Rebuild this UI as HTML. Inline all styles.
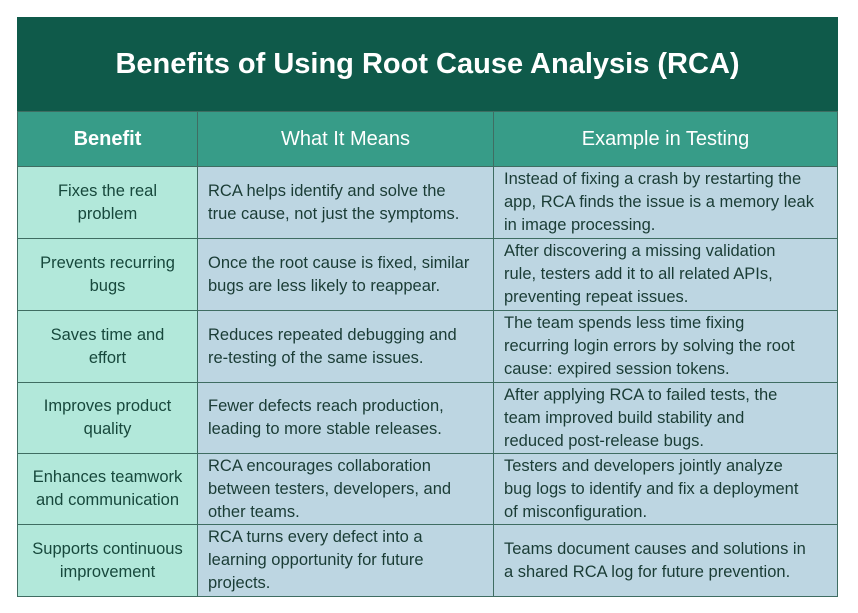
<!DOCTYPE html>
<html><head><meta charset="utf-8"><style>
body{margin:0;width:858px;height:613px;background:#fff;position:relative;font-family:"Liberation Sans",sans-serif;overflow:hidden}
.t{position:absolute;left:17px;top:17px;width:821px;height:94px;background:#0f5a4a;color:#fff;font-size:29px;font-weight:bold;display:flex;align-items:center;justify-content:center}
.c{position:absolute;box-sizing:border-box;border:1px solid #3f6d62;display:flex;align-items:center;font-size:16.5px;line-height:23px;color:#1a3c35;white-space:nowrap;padding:0 10px}
.h{background:#379c88;color:#fff;font-size:20px;justify-content:center}
.a{background:#b2e8da;justify-content:center;text-align:center;color:#17483c}
.b{background:#bdd6e2}
</style></head><body>
<div class="t">Benefits of Using Root Cause Analysis (RCA)</div>
<div class="c h" style="left:17px;top:111px;width:181px;height:56px;font-weight:bold">Benefit</div>
<div class="c h" style="left:197px;top:111px;width:297px;height:56px">What It Means</div>
<div class="c h" style="left:493px;top:111px;width:345px;height:56px">Example in Testing</div>

<div class="c a" style="left:17px;top:166px;width:181px;height:73px">Fixes the real<br>problem</div>
<div class="c b" style="left:197px;top:166px;width:297px;height:73px">RCA helps identify and solve the<br>true cause, not just the symptoms.</div>
<div class="c b" style="left:493px;top:166px;width:345px;height:73px">Instead of fixing a crash by restarting the<br>app, RCA finds the issue is a memory leak<br>in image processing.</div>

<div class="c a" style="left:17px;top:238px;width:181px;height:73px">Prevents recurring<br>bugs</div>
<div class="c b" style="left:197px;top:238px;width:297px;height:73px">Once the root cause is fixed, similar<br>bugs are less likely to reappear.</div>
<div class="c b" style="left:493px;top:238px;width:345px;height:73px">After discovering a missing validation<br>rule, testers add it to all related APIs,<br>preventing repeat issues.</div>

<div class="c a" style="left:17px;top:310px;width:181px;height:73px">Saves time and<br>effort</div>
<div class="c b" style="left:197px;top:310px;width:297px;height:73px">Reduces repeated debugging and<br>re-testing of the same issues.</div>
<div class="c b" style="left:493px;top:310px;width:345px;height:73px">The team spends less time fixing<br>recurring login errors by solving the root<br>cause: expired session tokens.</div>

<div class="c a" style="left:17px;top:382px;width:181px;height:72px">Improves product<br>quality</div>
<div class="c b" style="left:197px;top:382px;width:297px;height:72px">Fewer defects reach production,<br>leading to more stable releases.</div>
<div class="c b" style="left:493px;top:382px;width:345px;height:72px">After applying RCA to failed tests, the<br>team improved build stability and<br>reduced post-release bugs.</div>

<div class="c a" style="left:17px;top:453px;width:181px;height:72px">Enhances teamwork<br>and communication</div>
<div class="c b" style="left:197px;top:453px;width:297px;height:72px">RCA encourages collaboration<br>between testers, developers, and<br>other teams.</div>
<div class="c b" style="left:493px;top:453px;width:345px;height:72px">Testers and developers jointly analyze<br>bug logs to identify and fix a deployment<br>of misconfiguration.</div>

<div class="c a" style="left:17px;top:524px;width:181px;height:73px">Supports continuous<br>improvement</div>
<div class="c b" style="left:197px;top:524px;width:297px;height:73px">RCA turns every defect into a<br>learning opportunity for future<br>projects.</div>
<div class="c b" style="left:493px;top:524px;width:345px;height:73px">Teams document causes and solutions in<br>a shared RCA log for future prevention.</div>
</body></html>
